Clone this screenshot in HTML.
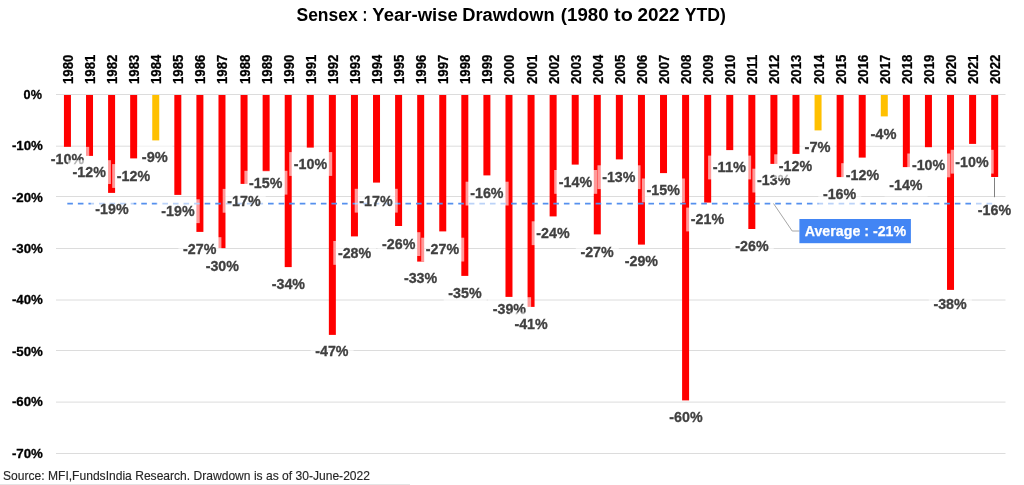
<!DOCTYPE html>
<html lang="en"><head><meta charset="utf-8"><title>Sensex : Year-wise Drawdown (1980 to 2022 YTD)</title>
<style>
html,body{margin:0;padding:0;background:#fff;}
body{width:1024px;height:485px;overflow:hidden;}
svg{display:block;font-family:"Liberation Sans",sans-serif;}
.t{font-weight:bold;font-size:18px;fill:#000;}
.ya{font-weight:bold;font-size:13.6px;fill:#000;text-anchor:end;stroke:#000;stroke-width:0.3px;}
.yr{font-weight:bold;font-size:14.5px;fill:#000;stroke:#000;stroke-width:0.25px;}
.dl{font-weight:bold;font-size:15px;fill:#404040;text-anchor:middle;stroke:#404040;stroke-width:0.3px;}
.lb{fill:#fff;fill-opacity:0.6;}
.src{font-size:13.6px;fill:#262626;stroke:#262626;stroke-width:0.15px;}
.av{font-weight:bold;font-size:14.6px;fill:#fff;stroke:#fff;stroke-width:0.25px;}
</style></head><body>
<svg width="1024" height="485" viewBox="0 0 1024 485">
<rect x="0" y="0" width="1024" height="485" fill="#fff"/>
<text class="t" y="21.2"><tspan x="296.5" textLength="61.2" lengthAdjust="spacingAndGlyphs">Sensex</tspan> <tspan x="362.4" textLength="4.8" lengthAdjust="spacingAndGlyphs">:</tspan> <tspan x="372.3" textLength="85.6" lengthAdjust="spacingAndGlyphs">Year-wise</tspan> <tspan x="462.2" textLength="92.4" lengthAdjust="spacingAndGlyphs">Drawdown</tspan> <tspan x="560.8" textLength="47.8" lengthAdjust="spacingAndGlyphs">(1980</tspan> <tspan x="614.1" textLength="18.7" lengthAdjust="spacingAndGlyphs">to</tspan> <tspan x="637.5" textLength="42.1" lengthAdjust="spacingAndGlyphs">2022</tspan> <tspan x="684.7" textLength="41.1" lengthAdjust="spacingAndGlyphs">YTD)</tspan></text>
<g stroke="#dcdcdc" stroke-width="1">
<line x1="56" y1="94.5" x2="1005.5" y2="94.5"/>
<line x1="56" y1="146.2" x2="1005.5" y2="146.2"/>
<line x1="56" y1="196.5" x2="1005.5" y2="196.5"/>
<line x1="56" y1="248.5" x2="1005.5" y2="248.5"/>
<line x1="56" y1="300.0" x2="1005.5" y2="300.0"/>
<line x1="56" y1="350.5" x2="1005.5" y2="350.5"/>
<line x1="56" y1="402.1" x2="1005.5" y2="402.1"/>
<line x1="56" y1="453.5" x2="1005.5" y2="453.5"/>
</g>
<g>
<text class="ya" x="41.9" y="99.0" textLength="18.3" lengthAdjust="spacingAndGlyphs">0%</text>
<text class="ya" x="42.9" y="150.2" textLength="31" lengthAdjust="spacingAndGlyphs">-10%</text>
<text class="ya" x="42.9" y="202.0" textLength="31" lengthAdjust="spacingAndGlyphs">-20%</text>
<text class="ya" x="42.9" y="252.7" textLength="31" lengthAdjust="spacingAndGlyphs">-30%</text>
<text class="ya" x="42.9" y="303.7" textLength="31" lengthAdjust="spacingAndGlyphs">-40%</text>
<text class="ya" x="42.9" y="355.8" textLength="31" lengthAdjust="spacingAndGlyphs">-50%</text>
<text class="ya" x="42.9" y="406.3" textLength="31" lengthAdjust="spacingAndGlyphs">-60%</text>
<text class="ya" x="42.9" y="458.2" textLength="31" lengthAdjust="spacingAndGlyphs">-70%</text>
</g>
<g>
<text class="yr" transform="translate(72.8 84) rotate(-90)" textLength="29.3" lengthAdjust="spacingAndGlyphs">1980</text>
<text class="yr" transform="translate(94.9 84) rotate(-90)" textLength="29.3" lengthAdjust="spacingAndGlyphs">1981</text>
<text class="yr" transform="translate(117.0 84) rotate(-90)" textLength="29.3" lengthAdjust="spacingAndGlyphs">1982</text>
<text class="yr" transform="translate(139.1 84) rotate(-90)" textLength="29.3" lengthAdjust="spacingAndGlyphs">1983</text>
<text class="yr" transform="translate(161.1 84) rotate(-90)" textLength="29.3" lengthAdjust="spacingAndGlyphs">1984</text>
<text class="yr" transform="translate(183.2 84) rotate(-90)" textLength="29.3" lengthAdjust="spacingAndGlyphs">1985</text>
<text class="yr" transform="translate(205.3 84) rotate(-90)" textLength="29.3" lengthAdjust="spacingAndGlyphs">1986</text>
<text class="yr" transform="translate(227.4 84) rotate(-90)" textLength="29.3" lengthAdjust="spacingAndGlyphs">1987</text>
<text class="yr" transform="translate(249.5 84) rotate(-90)" textLength="29.3" lengthAdjust="spacingAndGlyphs">1988</text>
<text class="yr" transform="translate(271.5 84) rotate(-90)" textLength="29.3" lengthAdjust="spacingAndGlyphs">1989</text>
<text class="yr" transform="translate(293.6 84) rotate(-90)" textLength="29.3" lengthAdjust="spacingAndGlyphs">1990</text>
<text class="yr" transform="translate(315.7 84) rotate(-90)" textLength="29.3" lengthAdjust="spacingAndGlyphs">1991</text>
<text class="yr" transform="translate(337.8 84) rotate(-90)" textLength="29.3" lengthAdjust="spacingAndGlyphs">1992</text>
<text class="yr" transform="translate(359.8 84) rotate(-90)" textLength="29.3" lengthAdjust="spacingAndGlyphs">1993</text>
<text class="yr" transform="translate(381.9 84) rotate(-90)" textLength="29.3" lengthAdjust="spacingAndGlyphs">1994</text>
<text class="yr" transform="translate(404.0 84) rotate(-90)" textLength="29.3" lengthAdjust="spacingAndGlyphs">1995</text>
<text class="yr" transform="translate(426.1 84) rotate(-90)" textLength="29.3" lengthAdjust="spacingAndGlyphs">1996</text>
<text class="yr" transform="translate(448.1 84) rotate(-90)" textLength="29.3" lengthAdjust="spacingAndGlyphs">1997</text>
<text class="yr" transform="translate(470.2 84) rotate(-90)" textLength="29.3" lengthAdjust="spacingAndGlyphs">1998</text>
<text class="yr" transform="translate(492.3 84) rotate(-90)" textLength="29.3" lengthAdjust="spacingAndGlyphs">1999</text>
<text class="yr" transform="translate(514.4 84) rotate(-90)" textLength="29.3" lengthAdjust="spacingAndGlyphs">2000</text>
<text class="yr" transform="translate(536.5 84) rotate(-90)" textLength="29.3" lengthAdjust="spacingAndGlyphs">2001</text>
<text class="yr" transform="translate(558.5 84) rotate(-90)" textLength="29.3" lengthAdjust="spacingAndGlyphs">2002</text>
<text class="yr" transform="translate(580.6 84) rotate(-90)" textLength="29.3" lengthAdjust="spacingAndGlyphs">2003</text>
<text class="yr" transform="translate(602.7 84) rotate(-90)" textLength="29.3" lengthAdjust="spacingAndGlyphs">2004</text>
<text class="yr" transform="translate(624.8 84) rotate(-90)" textLength="29.3" lengthAdjust="spacingAndGlyphs">2005</text>
<text class="yr" transform="translate(646.8 84) rotate(-90)" textLength="29.3" lengthAdjust="spacingAndGlyphs">2006</text>
<text class="yr" transform="translate(668.9 84) rotate(-90)" textLength="29.3" lengthAdjust="spacingAndGlyphs">2007</text>
<text class="yr" transform="translate(691.0 84) rotate(-90)" textLength="29.3" lengthAdjust="spacingAndGlyphs">2008</text>
<text class="yr" transform="translate(713.1 84) rotate(-90)" textLength="29.3" lengthAdjust="spacingAndGlyphs">2009</text>
<text class="yr" transform="translate(735.1 84) rotate(-90)" textLength="29.3" lengthAdjust="spacingAndGlyphs">2010</text>
<text class="yr" transform="translate(757.2 84) rotate(-90)" textLength="29.3" lengthAdjust="spacingAndGlyphs">2011</text>
<text class="yr" transform="translate(779.3 84) rotate(-90)" textLength="29.3" lengthAdjust="spacingAndGlyphs">2012</text>
<text class="yr" transform="translate(801.4 84) rotate(-90)" textLength="29.3" lengthAdjust="spacingAndGlyphs">2013</text>
<text class="yr" transform="translate(823.5 84) rotate(-90)" textLength="29.3" lengthAdjust="spacingAndGlyphs">2014</text>
<text class="yr" transform="translate(845.5 84) rotate(-90)" textLength="29.3" lengthAdjust="spacingAndGlyphs">2015</text>
<text class="yr" transform="translate(867.6 84) rotate(-90)" textLength="29.3" lengthAdjust="spacingAndGlyphs">2016</text>
<text class="yr" transform="translate(889.7 84) rotate(-90)" textLength="29.3" lengthAdjust="spacingAndGlyphs">2017</text>
<text class="yr" transform="translate(911.8 84) rotate(-90)" textLength="29.3" lengthAdjust="spacingAndGlyphs">2018</text>
<text class="yr" transform="translate(933.8 84) rotate(-90)" textLength="29.3" lengthAdjust="spacingAndGlyphs">2019</text>
<text class="yr" transform="translate(955.9 84) rotate(-90)" textLength="29.3" lengthAdjust="spacingAndGlyphs">2020</text>
<text class="yr" transform="translate(978.0 84) rotate(-90)" textLength="29.3" lengthAdjust="spacingAndGlyphs">2021</text>
<text class="yr" transform="translate(1000.1 84) rotate(-90)" textLength="29.3" lengthAdjust="spacingAndGlyphs">2022</text>
</g>
<g>
<rect x="63.94" y="95" width="7.0" height="51.9" fill="#ff0000"/>
<rect x="86.02" y="95" width="7.0" height="60.9" fill="#ff0000"/>
<rect x="108.09" y="95" width="7.0" height="97.9" fill="#ff0000"/>
<rect x="130.17" y="95" width="7.0" height="63.4" fill="#ff0000"/>
<rect x="152.25" y="95" width="7.0" height="45.4" fill="#ffc000"/>
<rect x="174.32" y="95" width="7.0" height="99.9" fill="#ff0000"/>
<rect x="196.40" y="95" width="7.0" height="136.9" fill="#ff0000"/>
<rect x="218.48" y="95" width="7.0" height="153.1" fill="#ff0000"/>
<rect x="240.55" y="95" width="7.0" height="88.9" fill="#ff0000"/>
<rect x="262.63" y="95" width="7.0" height="76.4" fill="#ff0000"/>
<rect x="284.71" y="95" width="7.0" height="172.1" fill="#ff0000"/>
<rect x="306.79" y="95" width="7.0" height="52.6" fill="#ff0000"/>
<rect x="328.86" y="95" width="7.0" height="239.9" fill="#ff0000"/>
<rect x="350.94" y="95" width="7.0" height="141.4" fill="#ff0000"/>
<rect x="373.02" y="95" width="7.0" height="87.6" fill="#ff0000"/>
<rect x="395.09" y="95" width="7.0" height="131.0" fill="#ff0000"/>
<rect x="417.17" y="95" width="7.0" height="166.6" fill="#ff0000"/>
<rect x="439.25" y="95" width="7.0" height="136.4" fill="#ff0000"/>
<rect x="461.32" y="95" width="7.0" height="180.9" fill="#ff0000"/>
<rect x="483.40" y="95" width="7.0" height="80.4" fill="#ff0000"/>
<rect x="505.48" y="95" width="7.0" height="201.9" fill="#ff0000"/>
<rect x="527.56" y="95" width="7.0" height="211.9" fill="#ff0000"/>
<rect x="549.63" y="95" width="7.0" height="121.4" fill="#ff0000"/>
<rect x="571.71" y="95" width="7.0" height="69.6" fill="#ff0000"/>
<rect x="593.79" y="95" width="7.0" height="139.4" fill="#ff0000"/>
<rect x="615.86" y="95" width="7.0" height="64.4" fill="#ff0000"/>
<rect x="637.94" y="95" width="7.0" height="149.6" fill="#ff0000"/>
<rect x="660.02" y="95" width="7.0" height="78.1" fill="#ff0000"/>
<rect x="682.09" y="95" width="7.0" height="305.4" fill="#ff0000"/>
<rect x="704.17" y="95" width="7.0" height="107.6" fill="#ff0000"/>
<rect x="726.25" y="95" width="7.0" height="55.1" fill="#ff0000"/>
<rect x="748.33" y="95" width="7.0" height="134.0" fill="#ff0000"/>
<rect x="770.40" y="95" width="7.0" height="68.9" fill="#ff0000"/>
<rect x="792.48" y="95" width="7.0" height="58.9" fill="#ff0000"/>
<rect x="814.56" y="95" width="7.0" height="35.4" fill="#ffc000"/>
<rect x="836.63" y="95" width="7.0" height="82.1" fill="#ff0000"/>
<rect x="858.71" y="95" width="7.0" height="62.6" fill="#ff0000"/>
<rect x="880.79" y="95" width="7.0" height="21.4" fill="#ffc000"/>
<rect x="902.86" y="95" width="7.0" height="72.1" fill="#ff0000"/>
<rect x="924.94" y="95" width="7.0" height="52.2" fill="#ff0000"/>
<rect x="947.02" y="95" width="7.0" height="194.9" fill="#ff0000"/>
<rect x="969.10" y="95" width="7.0" height="48.9" fill="#ff0000"/>
<rect x="991.17" y="95" width="7.0" height="82.0" fill="#ff0000"/>
</g>
<line x1="67.3" y1="203.6" x2="995" y2="203.6" stroke="#5590ee" stroke-width="1.6" stroke-dasharray="5.6 4.966"/>
<polyline points="773.5,203.5 792.2,231 799.5,231" fill="none" stroke="#a6a6a6" stroke-width="1"/>
<line x1="994.5" y1="177.6" x2="994.5" y2="197.2" stroke="#808080" stroke-width="1"/>
<g>
<rect class="lb" x="46.2" y="146.9" width="43" height="23.8"/><text class="dl" x="67.5" y="163.7" textLength="33.3" lengthAdjust="spacingAndGlyphs">-10%</text>
<rect class="lb" x="67.9" y="160.2" width="43" height="23.8"/><text class="dl" x="89.2" y="176.9" textLength="33.3" lengthAdjust="spacingAndGlyphs">-12%</text>
<rect class="lb" x="90.7" y="197.6" width="43" height="23.8"/><text class="dl" x="112.0" y="214.3" textLength="33.3" lengthAdjust="spacingAndGlyphs">-19%</text>
<rect class="lb" x="112.2" y="164.1" width="43" height="23.8"/><text class="dl" x="133.5" y="180.8" textLength="33.3" lengthAdjust="spacingAndGlyphs">-12%</text>
<rect class="lb" x="137.5" y="145.1" width="35" height="23.8"/><text class="dl" x="154.8" y="161.8" textLength="26" lengthAdjust="spacingAndGlyphs">-9%</text>
<rect class="lb" x="156.7" y="199.3" width="43" height="23.8"/><text class="dl" x="178.0" y="216.0" textLength="33.3" lengthAdjust="spacingAndGlyphs">-19%</text>
<rect class="lb" x="178.4" y="237.2" width="43" height="23.8"/><text class="dl" x="199.7" y="253.9" textLength="33.3" lengthAdjust="spacingAndGlyphs">-27%</text>
<rect class="lb" x="201.0" y="254.5" width="43" height="23.8"/><text class="dl" x="222.3" y="271.2" textLength="33.3" lengthAdjust="spacingAndGlyphs">-30%</text>
<rect class="lb" x="222.7" y="188.9" width="43" height="23.8"/><text class="dl" x="244.0" y="205.6" textLength="33.3" lengthAdjust="spacingAndGlyphs">-17%</text>
<rect class="lb" x="244.4" y="170.8" width="43" height="23.8"/><text class="dl" x="265.7" y="187.5" textLength="33.3" lengthAdjust="spacingAndGlyphs">-15%</text>
<rect class="lb" x="267.1" y="272.6" width="43" height="23.8"/><text class="dl" x="288.4" y="289.4" textLength="33.3" lengthAdjust="spacingAndGlyphs">-34%</text>
<rect class="lb" x="289.2" y="152.1" width="43" height="23.8"/><text class="dl" x="310.5" y="168.8" textLength="33.3" lengthAdjust="spacingAndGlyphs">-10%</text>
<rect class="lb" x="310.6" y="339.3" width="43" height="23.8"/><text class="dl" x="331.9" y="356.1" textLength="33.3" lengthAdjust="spacingAndGlyphs">-47%</text>
<rect class="lb" x="333.3" y="241.0" width="43" height="23.8"/><text class="dl" x="354.6" y="257.8" textLength="33.3" lengthAdjust="spacingAndGlyphs">-28%</text>
<rect class="lb" x="354.7" y="188.8" width="43" height="23.8"/><text class="dl" x="376.0" y="205.5" textLength="33.3" lengthAdjust="spacingAndGlyphs">-17%</text>
<rect class="lb" x="377.4" y="232.2" width="43" height="23.8"/><text class="dl" x="398.7" y="248.9" textLength="33.3" lengthAdjust="spacingAndGlyphs">-26%</text>
<rect class="lb" x="399.3" y="266.5" width="43" height="23.8"/><text class="dl" x="420.6" y="283.2" textLength="33.3" lengthAdjust="spacingAndGlyphs">-33%</text>
<rect class="lb" x="421.2" y="237.7" width="43" height="23.8"/><text class="dl" x="442.5" y="254.4" textLength="33.3" lengthAdjust="spacingAndGlyphs">-27%</text>
<rect class="lb" x="443.7" y="281.5" width="43" height="23.8"/><text class="dl" x="465.0" y="298.2" textLength="33.3" lengthAdjust="spacingAndGlyphs">-35%</text>
<rect class="lb" x="465.6" y="181.7" width="43" height="23.8"/><text class="dl" x="486.9" y="198.4" textLength="33.3" lengthAdjust="spacingAndGlyphs">-16%</text>
<rect class="lb" x="488.1" y="297.2" width="43" height="23.8"/><text class="dl" x="509.4" y="314.0" textLength="33.3" lengthAdjust="spacingAndGlyphs">-39%</text>
<rect class="lb" x="509.8" y="312.5" width="43" height="23.8"/><text class="dl" x="531.1" y="329.2" textLength="33.3" lengthAdjust="spacingAndGlyphs">-41%</text>
<rect class="lb" x="531.7" y="221.3" width="43" height="23.8"/><text class="dl" x="553.0" y="238.1" textLength="33.3" lengthAdjust="spacingAndGlyphs">-24%</text>
<rect class="lb" x="554.2" y="170.0" width="43" height="23.8"/><text class="dl" x="575.5" y="186.8" textLength="33.3" lengthAdjust="spacingAndGlyphs">-14%</text>
<rect class="lb" x="575.8" y="239.9" width="43" height="23.8"/><text class="dl" x="597.1" y="256.7" textLength="33.3" lengthAdjust="spacingAndGlyphs">-27%</text>
<rect class="lb" x="597.5" y="165.3" width="43" height="23.8"/><text class="dl" x="618.8" y="182.1" textLength="33.3" lengthAdjust="spacingAndGlyphs">-13%</text>
<rect class="lb" x="620.1" y="249.2" width="43" height="23.8"/><text class="dl" x="641.4" y="266.0" textLength="33.3" lengthAdjust="spacingAndGlyphs">-29%</text>
<rect class="lb" x="641.9" y="178.5" width="43" height="23.8"/><text class="dl" x="663.2" y="195.2" textLength="33.3" lengthAdjust="spacingAndGlyphs">-15%</text>
<rect class="lb" x="664.7" y="404.7" width="43" height="23.8"/><text class="dl" x="686.0" y="421.5" textLength="33.3" lengthAdjust="spacingAndGlyphs">-60%</text>
<rect class="lb" x="686.2" y="207.6" width="43" height="23.8"/><text class="dl" x="707.5" y="224.3" textLength="33.3" lengthAdjust="spacingAndGlyphs">-21%</text>
<rect class="lb" x="708.1" y="155.6" width="43" height="23.8"/><text class="dl" x="729.4" y="172.3" textLength="33.3" lengthAdjust="spacingAndGlyphs">-11%</text>
<rect class="lb" x="730.7" y="234.0" width="43" height="23.8"/><text class="dl" x="752.0" y="250.8" textLength="33.3" lengthAdjust="spacingAndGlyphs">-26%</text>
<rect class="lb" x="752.4" y="168.7" width="43" height="23.8"/><text class="dl" x="773.7" y="185.4" textLength="33.3" lengthAdjust="spacingAndGlyphs">-13%</text>
<rect class="lb" x="774.2" y="154.3" width="43" height="23.8"/><text class="dl" x="795.5" y="171.0" textLength="33.3" lengthAdjust="spacingAndGlyphs">-12%</text>
<rect class="lb" x="800.3" y="135.1" width="35" height="23.8"/><text class="dl" x="817.6" y="151.8" textLength="26" lengthAdjust="spacingAndGlyphs">-7%</text>
<rect class="lb" x="818.3" y="182.0" width="43" height="23.8"/><text class="dl" x="839.6" y="198.8" textLength="33.3" lengthAdjust="spacingAndGlyphs">-16%</text>
<rect class="lb" x="841.2" y="163.2" width="43" height="23.8"/><text class="dl" x="862.5" y="179.9" textLength="33.3" lengthAdjust="spacingAndGlyphs">-12%</text>
<rect class="lb" x="866.2" y="122.2" width="35" height="23.8"/><text class="dl" x="883.5" y="138.9" textLength="26" lengthAdjust="spacingAndGlyphs">-4%</text>
<rect class="lb" x="884.6" y="172.8" width="43" height="23.8"/><text class="dl" x="905.9" y="189.5" textLength="33.3" lengthAdjust="spacingAndGlyphs">-14%</text>
<rect class="lb" x="907.3" y="153.5" width="43" height="23.8"/><text class="dl" x="928.6" y="170.2" textLength="33.3" lengthAdjust="spacingAndGlyphs">-10%</text>
<rect class="lb" x="928.8" y="292.5" width="43" height="23.8"/><text class="dl" x="950.1" y="309.2" textLength="33.3" lengthAdjust="spacingAndGlyphs">-38%</text>
<rect class="lb" x="950.7" y="149.8" width="43" height="23.8"/><text class="dl" x="972.0" y="166.6" textLength="33.3" lengthAdjust="spacingAndGlyphs">-10%</text>
<rect class="lb" x="973.2" y="198.0" width="43" height="23.8"/><text class="dl" x="994.5" y="214.8" textLength="33.3" lengthAdjust="spacingAndGlyphs">-16%</text>
</g>
<rect x="799.4" y="219" width="111.5" height="24.2" fill="#4285f4"/>
<text class="av" x="804.7" y="236.3" textLength="101.5" lengthAdjust="spacingAndGlyphs">Average : -21%</text>
<text class="src" x="3" y="479.8" textLength="367" lengthAdjust="spacingAndGlyphs">Source: MFI,FundsIndia Research. Drawdown is as of 30-June-2022</text>
<line x1="0" y1="484.5" x2="410" y2="484.5" stroke="#e4e4e4" stroke-width="1"/>
</svg>
</body></html>
